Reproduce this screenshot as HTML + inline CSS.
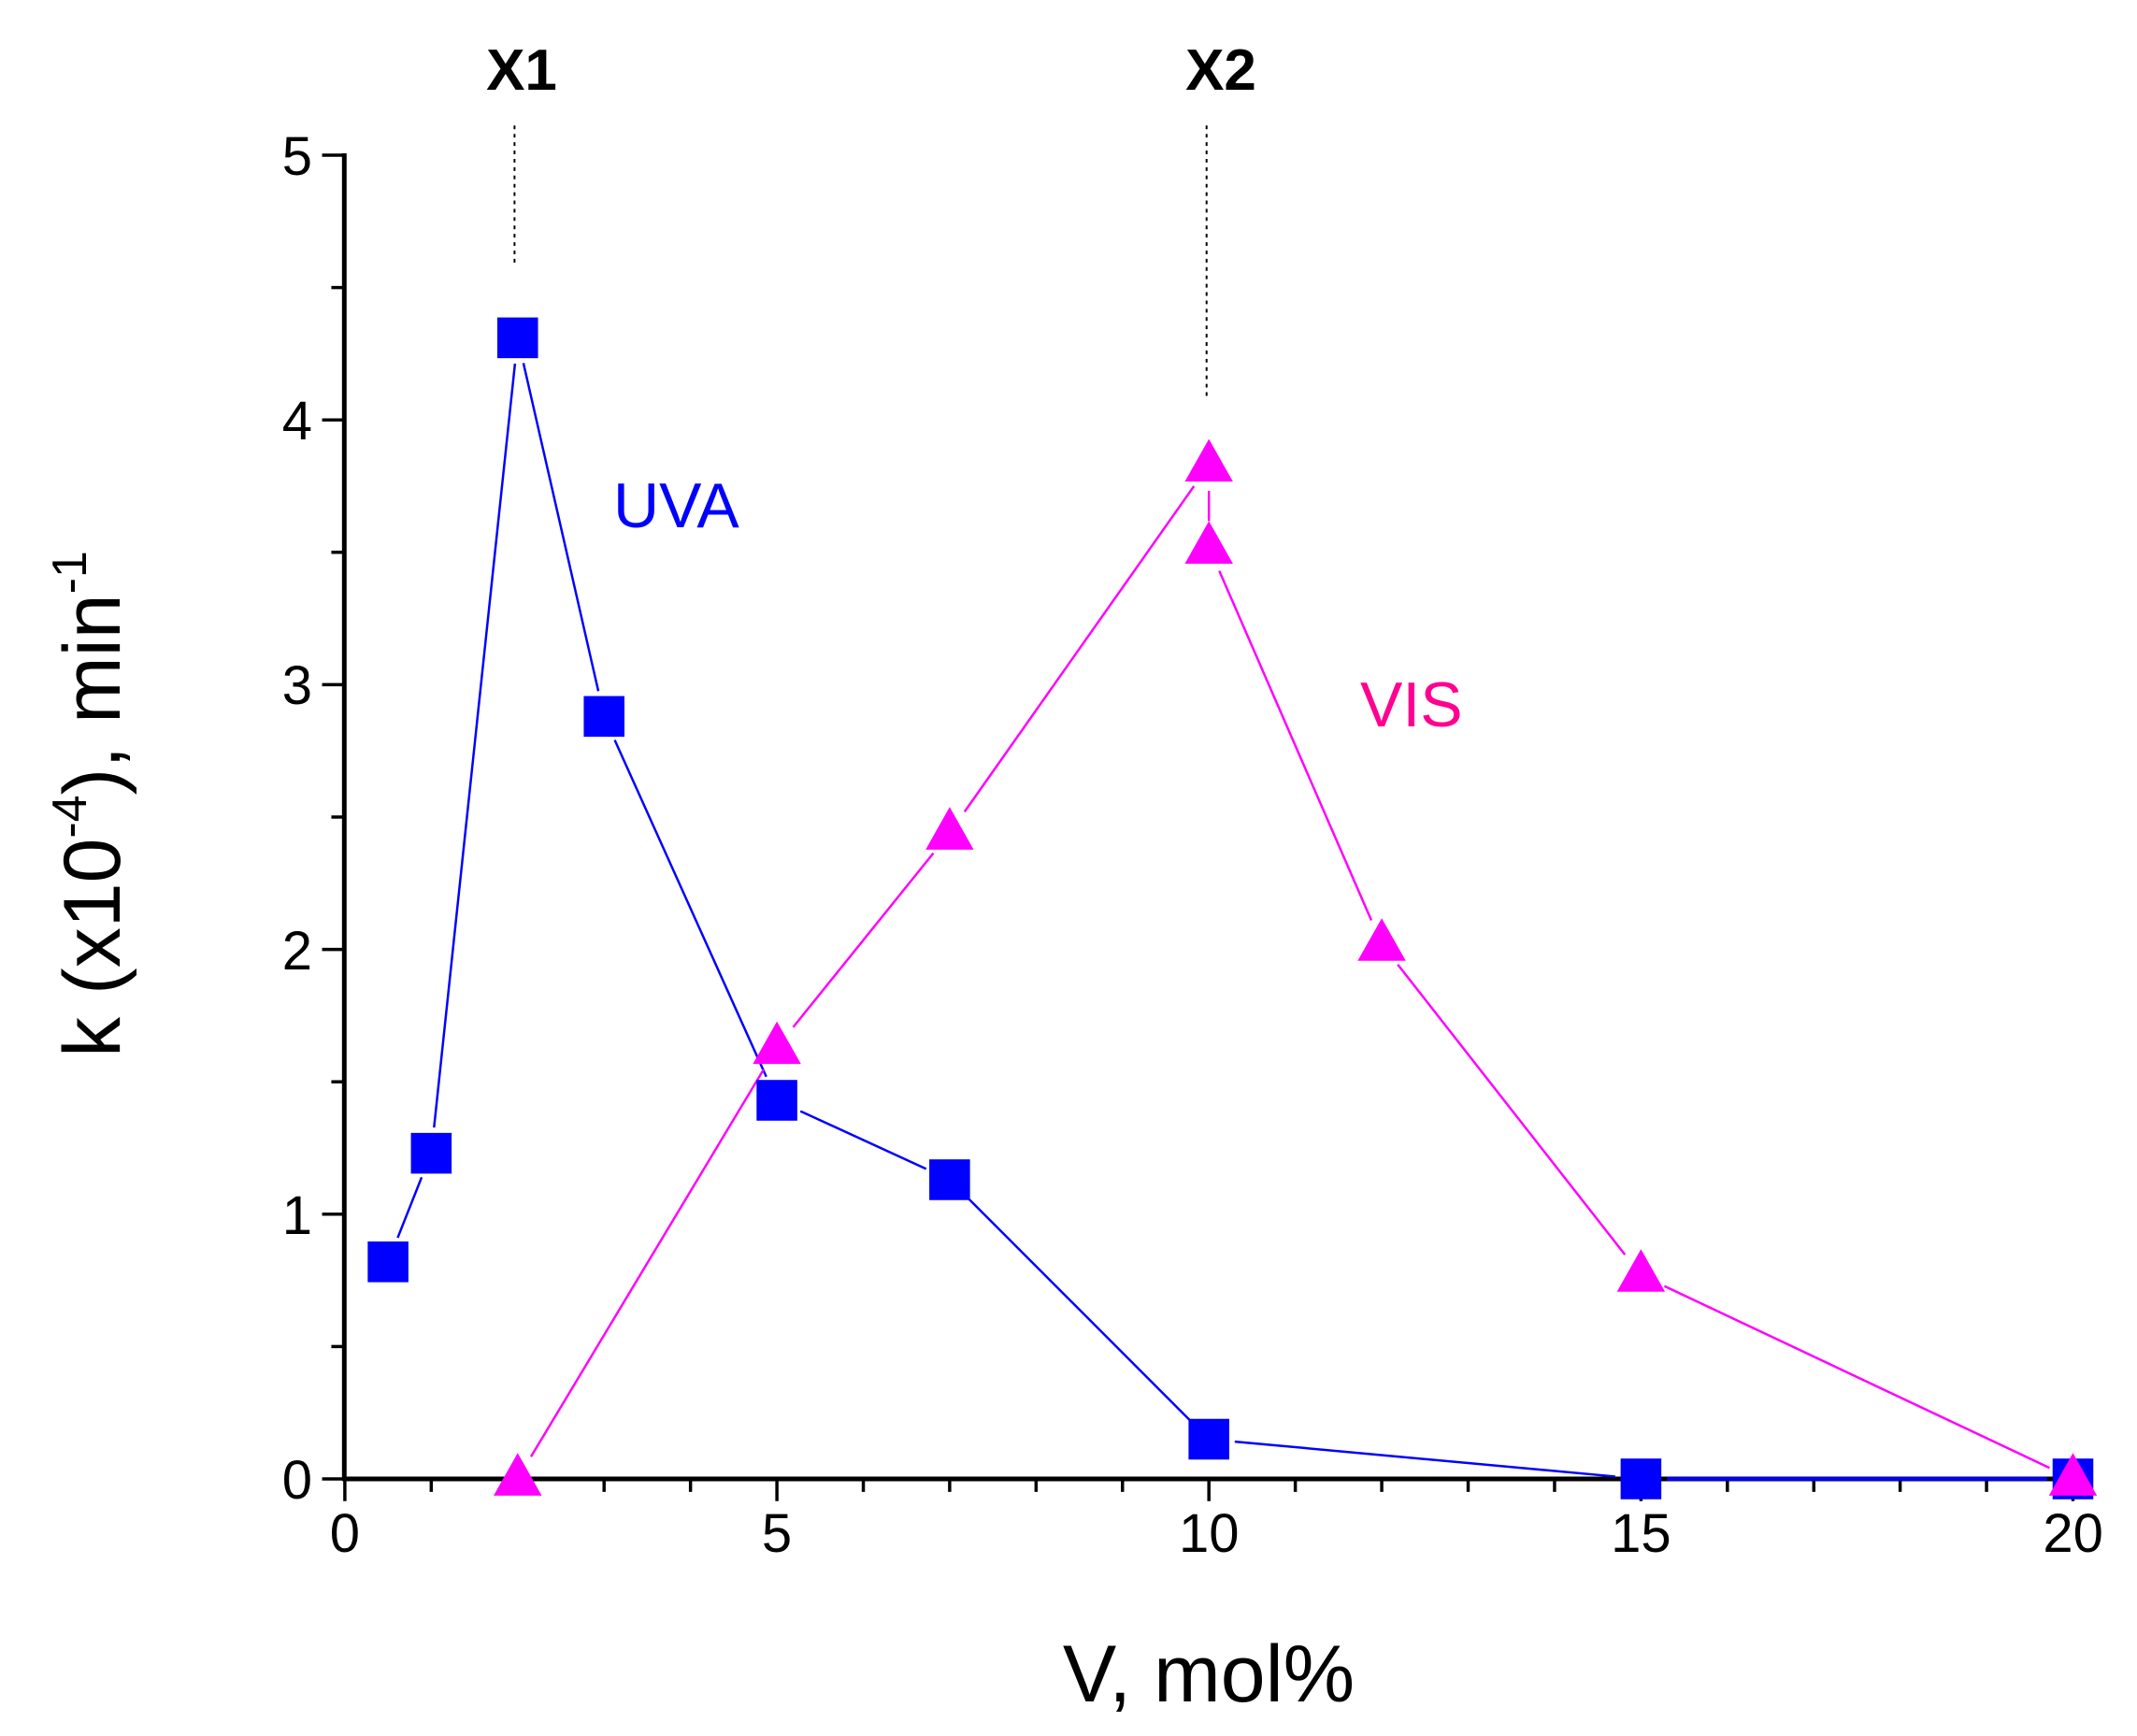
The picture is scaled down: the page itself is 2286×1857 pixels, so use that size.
<!DOCTYPE html>
<html><head><meta charset="utf-8"><style>
html,body{margin:0;padding:0;background:#fff}
svg{display:block}
text{font-family:"Liberation Sans",Arial,sans-serif}
</style></head><body>
<svg width="2286" height="1857" viewBox="0 0 2286 1857" xmlns="http://www.w3.org/2000/svg">
<rect width="2286" height="1857" fill="#fff"/>
<text x="558" y="96" font-size="62" font-weight="bold" text-anchor="middle">X1</text>
<text x="1306" y="96" font-size="62" font-weight="bold" text-anchor="middle">X2</text>
<g font-size="58" text-anchor="end">
<text x="334" y="1603">0</text><text x="334" y="1320">1</text><text x="334" y="1037">2</text>
<text x="334" y="753">3</text><text x="334" y="470">4</text><text x="334" y="187">5</text>
</g>
<g font-size="58" text-anchor="middle">
<text x="368.9" y="1660">0</text><text x="831" y="1660">5</text><text x="1293.2" y="1660">10</text>
<text x="1755.4" y="1660">15</text><text x="2217.6" y="1660">20</text>
</g>
<text x="1293" y="1820" font-size="86" text-anchor="middle">V, mol%</text>
<text transform="translate(128,860) rotate(-90)" font-size="86" text-anchor="middle">k (x10<tspan font-size="52" dy="-36">-4</tspan><tspan dy="36">), min</tspan><tspan font-size="52" dy="-36">-1</tspan></text>
<text x="656" y="564" font-size="68" fill="#0000FF">UVA</text>
<text x="1455" y="777" font-size="68" fill="#FF0090">VIS</text>
<g transform="matrix(0.98972 0 0 0.99021 0.12 -0.36)">
<line x1="556" y1="136" x2="556" y2="287" stroke="#000" stroke-width="2" stroke-dasharray="4,5"/>
<line x1="1304" y1="136" x2="1304" y2="432" stroke="#000" stroke-width="2" stroke-dasharray="4,5"/>
<g stroke="#000" stroke-width="5">
<line x1="372" y1="166" x2="372" y2="1600"/>
<line x1="370" y1="1598" x2="2242" y2="1598"/>
</g>
<g stroke="#000" stroke-width="3.5">
<line x1="348" y1="1598" x2="372" y2="1598"/><line x1="348" y1="1312" x2="372" y2="1312"/>
<line x1="348" y1="1026" x2="372" y2="1026"/><line x1="348" y1="740" x2="372" y2="740"/>
<line x1="348" y1="454" x2="372" y2="454"/><line x1="348" y1="168" x2="372" y2="168"/>
<line x1="358" y1="1455" x2="372" y2="1455"/><line x1="358" y1="1169" x2="372" y2="1169"/>
<line x1="358" y1="883" x2="372" y2="883"/><line x1="358" y1="597" x2="372" y2="597"/>
<line x1="358" y1="311" x2="372" y2="311"/>
<line x1="372.6" y1="1598" x2="372.6" y2="1622"/><line x1="839.6" y1="1598" x2="839.6" y2="1622"/>
<line x1="1306.5" y1="1598" x2="1306.5" y2="1622"/><line x1="1773.5" y1="1598" x2="1773.5" y2="1622"/>
<line x1="2240.4" y1="1598" x2="2240.4" y2="1622"/>
<line x1="466" y1="1598" x2="466" y2="1612"/><line x1="559.4" y1="1598" x2="559.4" y2="1612"/>
<line x1="652.8" y1="1598" x2="652.8" y2="1612"/><line x1="746.2" y1="1598" x2="746.2" y2="1612"/>
<line x1="933" y1="1598" x2="933" y2="1612"/><line x1="1026.3" y1="1598" x2="1026.3" y2="1612"/>
<line x1="1119.7" y1="1598" x2="1119.7" y2="1612"/><line x1="1213.1" y1="1598" x2="1213.1" y2="1612"/>
<line x1="1399.9" y1="1598" x2="1399.9" y2="1612"/><line x1="1493.3" y1="1598" x2="1493.3" y2="1612"/>
<line x1="1586.7" y1="1598" x2="1586.7" y2="1612"/><line x1="1680.1" y1="1598" x2="1680.1" y2="1612"/>
<line x1="1866.9" y1="1598" x2="1866.9" y2="1612"/><line x1="1960.3" y1="1598" x2="1960.3" y2="1612"/>
<line x1="2053.6" y1="1598" x2="2053.6" y2="1612"/><line x1="2147" y1="1598" x2="2147" y2="1612"/>
</g>
<g stroke="#0000FF" stroke-width="2.5">
<line x1="429.7" y1="1337.5" x2="455.6" y2="1272.2"/>
<line x1="469" y1="1218.4" x2="556.5" y2="393.2"/>
<line x1="565.6" y1="392.6" x2="646.6" y2="747"/>
<line x1="664.3" y1="799.8" x2="828.1" y2="1163.5"/>
<line x1="865" y1="1200.7" x2="1000.9" y2="1263.1"/>
<line x1="1046.1" y1="1294.6" x2="1286.7" y2="1535.3"/>
<line x1="1334.4" y1="1557.7" x2="1745.6" y2="1595.4"/>
<line x1="1801.5" y1="1598" x2="2212.4" y2="1598" stroke-width="4"/>
</g>
<g stroke="#FF00FF" stroke-width="2.5">
<line x1="573.8" y1="1574" x2="825.2" y2="1155.8"/>
<line x1="857.2" y1="1110" x2="1008.7" y2="922"/>
<line x1="1042.4" y1="877.3" x2="1290.4" y2="525.5"/>
<line x1="1306.5" y1="530.6" x2="1306.5" y2="563.3"/>
<line x1="1317.7" y1="617" x2="1482.1" y2="994.6"/>
<line x1="1510.6" y1="1042.3" x2="1756.2" y2="1355.8"/>
<line x1="1798.8" y1="1389.7" x2="2215.1" y2="1586.1"/>
</g>
<g fill="#0000FF">
<rect x="397.3" y="1341.5" width="44" height="44"/>
<rect x="444" y="1224.2" width="44" height="44"/>
<rect x="537.4" y="343.3" width="44" height="44"/>
<rect x="630.8" y="752.3" width="44" height="44"/>
<rect x="817.6" y="1167" width="44" height="44"/>
<rect x="1004.3" y="1252.8" width="44" height="44"/>
<rect x="1284.5" y="1533.1" width="44" height="44"/>
<rect x="1751.5" y="1576" width="44" height="44"/>
<rect x="2218.4" y="1576" width="44" height="44"/>
</g>
<g fill="#FF00FF">
<polygon points="559.4,1570 533.4,1616 585.4,1616"/>
<polygon points="839.6,1103.8 813.6,1149.8 865.6,1149.8"/>
<polygon points="1026.3,872.2 1000.3,918.2 1052.3,918.2"/>
<polygon points="1306.5,474.6 1280.5,520.6 1332.5,520.6"/>
<polygon points="1306.5,563.3 1280.5,609.3 1332.5,609.3"/>
<polygon points="1493.3,992.3 1467.3,1038.3 1519.3,1038.3"/>
<polygon points="1773.5,1349.8 1747.5,1395.8 1799.5,1395.8"/>
<polygon points="2240.4,1570 2214.4,1616 2266.4,1616"/>
</g>
</g>
</svg>
</body></html>
